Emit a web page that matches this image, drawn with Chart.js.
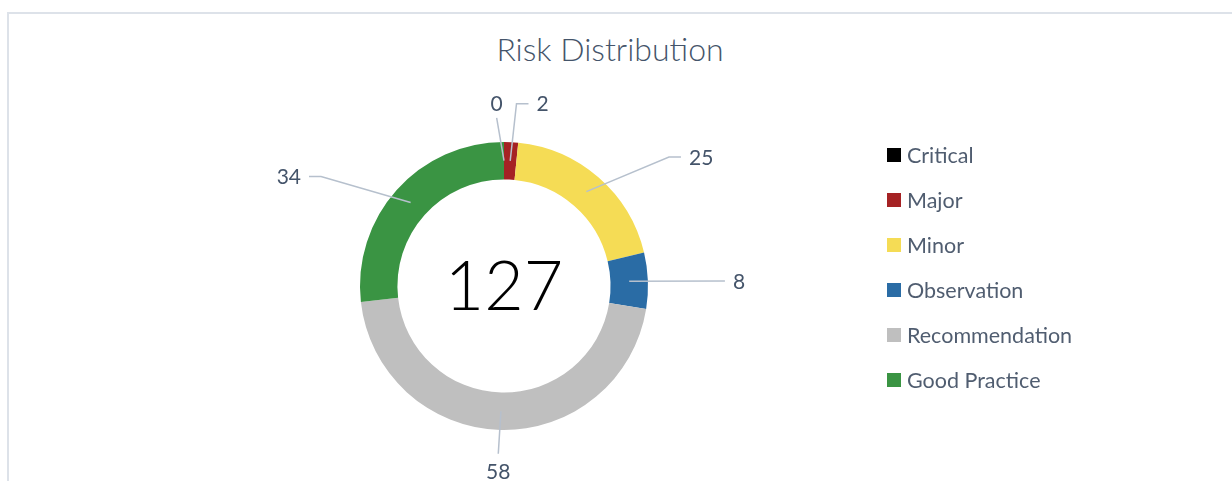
<!DOCTYPE html>
<html>
<head>
<meta charset="utf-8">
<title>Risk Distribution</title>
<script src="https://cdn.jsdelivr.net/npm/chart.js@4"></script>
<style>
    html, body {
        margin: 0;
        padding: 0;
        background: #fff;
    }
    .frame {
        position: absolute;
        left: 7px;
        top: 12px;
        width: 1300px;
        height: 600px;
        border-left: 2px solid #dde2e9;
        border-top: 2px solid #dde2e9;
    }
    .wrap {
        position: absolute;
        left: 0;
        top: 0;
        width: 1232px;
        height: 481px;
        overflow: hidden;
    }
    #chart {
        position: absolute;
        left: 0;
        top: 0;
    }
    .chart-title {
        position: absolute;
        left: 610px;
        top: 48px;
        transform: translate(-50%, -50%);
        font-family: Lato, "Open Sans", sans-serif;
        font-weight: 300;
        font-size: 32px;
        color: #44546a;
        white-space: nowrap;
    }
    .legend {
        position: absolute;
        left: 887px;
        top: 132px;
        font-family: Lato, "Open Sans", sans-serif;
        font-size: 21.5px;
        color: #505d70;
    }
    .legend-row {
        height: 45px;
        display: flex;
        align-items: center;
    }
    .legend-box {
        width: 14px;
        height: 14px;
        margin-right: 6px;
    }
</style>
</head>
<body>
<div class="wrap">
    <div class="frame"></div>
    <div class="chart-title">Risk Distribution</div>
    <canvas id="chart" width="1232" height="481"></canvas>
    <div class="legend" id="legend"></div>
</div>

<script>
// Data

const riskLabels = ['Critical', 'Major', 'Minor', 'Observation', 'Recommendation', 'Good Practice'];
const riskCounts = [0, 2, 25, 8, 58, 34];
const riskColors = ['#000000', '#a52224', '#f5dc55', '#2a6ca5', '#bfbfbf', '#3a9443'];

const labelFont = '21px Lato, "Open Sans", sans-serif';
const labelColor = '#44546a';
const leaderColor = '#b6c0cd';

// Legend

const legend = document.getElementById('legend');
legend.innerHTML = riskLabels.map((name, i) =>
    `<div class="legend-row"><span class="legend-box" style="background:${riskColors[i]}"></span>${name}</div>`
).join('');

// Leader lines, value labels and total in the hole

const leaderLabels = {
    id: 'leaderLabels',
    afterDatasetsDraw(chart) {
        const ctx = chart.ctx;
        const arcs = chart.getDatasetMeta(0).data;
        const values = chart.data.datasets[0].data;

        // angle from top, clockwise
        let angles = arcs.map(a => (a.startAngle + a.endAngle) / 2 + Math.PI / 2);
        // push labels toward the horizontal a little
        angles = angles.map(t => t + (11 * Math.PI / 180) * Math.sin(2 * t));
        // keep neighbouring labels apart
        let extra = angles.map(() => 0);
        for (let i = 0; i < angles.length - 1; i++) {
            if (angles[i + 1] - angles[i] < 6 * Math.PI / 180) {
                angles[i] -= 2.5 * Math.PI / 180;
                extra[i + 1] += 13;
            }
        }

        ctx.save();
        ctx.font = labelFont;
        ctx.fillStyle = labelColor;
        ctx.strokeStyle = leaderColor;
        ctx.lineWidth = 1.5;

        arcs.forEach((arc, i) => {
            const mid = (arc.startAngle + arc.endAngle) / 2;
            const r0 = (arc.innerRadius + arc.outerRadius) / 2;
            const x0 = arc.x + r0 * Math.cos(mid);
            const y0 = arc.y + r0 * Math.sin(mid);

            const t = angles[i];
            const s = Math.sin(t);
            const r1 = arc.outerRadius + 22 + 55 * Math.abs(s) + extra[i];
            const x1 = arc.x + r1 * Math.sin(t);
            const y1 = arc.y - r1 * Math.cos(t);

            ctx.beginPath();
            ctx.moveTo(x0, y0);
            ctx.lineTo(x1, y1);

            const text = String(values[i]);
            if (Math.abs(s) < 0.05) {
                ctx.stroke();
                ctx.textAlign = 'center';
                if (Math.cos(t) > 0) {
                    ctx.textBaseline = 'bottom';
                    ctx.fillText(text, x1, y1 - 3);
                } else {
                    ctx.textBaseline = 'top';
                    ctx.fillText(text, x1, y1 + 8);
                }
                return;
            }

            const dir = s > 0 ? 1 : -1;
            let x2 = x1;
            if (Math.abs(s) < 0.97) {
                x2 = x1 + dir * 12;
                ctx.lineTo(x2, y1);
            }
            ctx.stroke();
            ctx.textAlign = dir > 0 ? 'left' : 'right';
            ctx.textBaseline = 'middle';
            ctx.fillText(text, x2 + dir * 8, y1 + 1);
        });

        // total in the centre
        const total = values.reduce((a, b) => a + b, 0);
        const c = arcs[0];
        ctx.font = '300 68px Lato, "Open Sans", sans-serif';
        ctx.fillStyle = '#000';
        ctx.textAlign = 'center';
        ctx.textBaseline = 'middle';
        ctx.fillText(String(total), c.x, c.y + 2);
        ctx.restore();
    }
};

// Doughnut Chart

const riskCanvas = document.getElementById('chart');

let riskChart = new Chart(riskCanvas, {
    type: 'doughnut',
    data: {
        labels: riskLabels,
        datasets: [{
            data: riskCounts,
            backgroundColor: riskColors,
            borderWidth: 0,
            hoverOffset: 0,
            offset: 0
        }]
    },
    options: {
        responsive: false,
        animation: false,
        cutout: '74%',
        layout: {
            padding: { left: 360, right: 584, top: 142, bottom: 51 }
        },
        plugins: {
            legend: { display: false },
            tooltip: { enabled: false }
        }
    },
    plugins: [leaderLabels]
});
</script>
</body>
</html>
